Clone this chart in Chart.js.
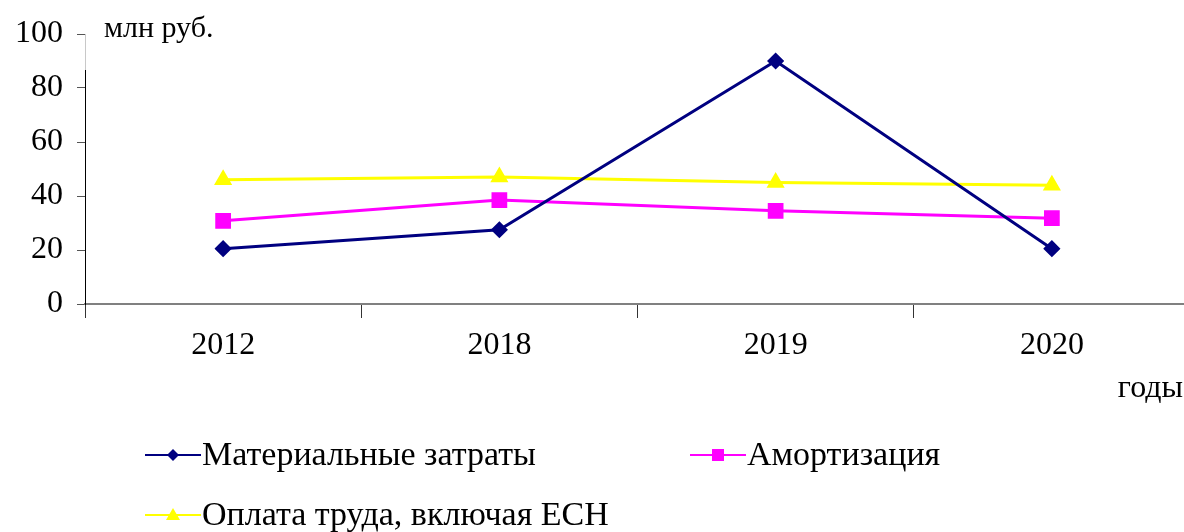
<!DOCTYPE html>
<html><head><meta charset="utf-8">
<script src="https://cdn.jsdelivr.net/npm/chart.js@4/dist/chart.umd.min.js"></script>
<style>html,body{margin:0;padding:0;background:#fff;overflow:hidden}#wrap{width:1184px;height:532px;position:relative;overflow:hidden}</style>
</head><body><div id="wrap"><canvas id="c" width="1190" height="532"></canvas></div>
<script>
const categories = ['2012','2018','2019','2020'];
const material = [20.5, 27.5, 90, 20.5];
const amort = [30.8, 38.5, 34.5, 31.8];
const labour = [46, 47, 45, 44];
const seriesNames = ['Материальные затраты','Амортизация','Оплата труда, включая ЕСН'];
const yUnit = 'млн руб.';
const xUnit = 'годы';
const FONT = '"Liberation Serif", "Times New Roman", serif';

const extras = {
  id: 'extras',
  afterDraw(chart) {
    const ctx = chart.ctx;
    const a = chart.chartArea;
    ctx.save();
    ctx.strokeStyle = '#c8c8c8';
    ctx.lineWidth = 1;
    ctx.beginPath(); ctx.moveTo(a.left + 0.5, a.top); ctx.lineTo(a.left + 0.5, 70); ctx.stroke();
    ctx.fillStyle = '#000';
    ctx.font = '30px ' + FONT;
    ctx.textBaseline = 'alphabetic';
    ctx.textAlign = 'left';
    ctx.fillText(yUnit, 104, 37);
    ctx.font = '32px ' + FONT;
    ctx.textAlign = 'right';
    ctx.fillText(xUnit, 1183, 397);
    const pos = [[145, 455], [690, 455], [145, 515]];
    chart.data.datasets.forEach((ds, i) => {
      const [x, y] = pos[i];
      ctx.strokeStyle = ds.borderColor;
      ctx.lineWidth = 2;
      ctx.beginPath(); ctx.moveTo(x, y); ctx.lineTo(x + 56, y); ctx.stroke();
      ctx.fillStyle = ds.borderColor;
      const cx = x + 28;
      ctx.beginPath();
      if (ds.pointStyle === 'rectRot') {
        ctx.moveTo(cx, y - 6); ctx.lineTo(cx + 6, y); ctx.lineTo(cx, y + 6); ctx.lineTo(cx - 6, y);
      } else if (ds.pointStyle === 'rect') {
        ctx.rect(cx - 6, y - 6, 12, 12);
      } else {
        ctx.moveTo(cx, y - 7); ctx.lineTo(cx + 7, y + 5); ctx.lineTo(cx - 7, y + 5);
      }
      ctx.closePath(); ctx.fill();
      ctx.fillStyle = '#000';
      ctx.font = '34px ' + FONT;
      ctx.textAlign = 'left';
      ctx.textBaseline = 'middle';
      ctx.fillText(ds.label, x + 57, y + 1);
    });
    ctx.restore();
  }
};

new Chart(document.getElementById('c'), {
  type: 'line',
  data: {
    labels: categories,
    datasets: [
      {label: seriesNames[0], data: material, borderColor: '#000080', backgroundColor: '#000080', borderWidth: 3, pointStyle: 'rectRot', pointRadius: 6.5, pointHoverRadius: 6.5, tension: 0},
      {label: seriesNames[1], data: amort, borderColor: '#FF00FF', backgroundColor: '#FF00FF', borderWidth: 3, pointStyle: 'rect', pointRadius: 9, pointHoverRadius: 9, tension: 0},
      {label: seriesNames[2], data: labour, borderColor: '#FFFF00', backgroundColor: '#FFFF00', borderWidth: 3, pointStyle: 'triangle', pointRadius: 7.5, pointHoverRadius: 7.5, tension: 0}
    ]
  },
  options: {
    responsive: false,
    animation: false,
    events: [],
    layout: {autoPadding: false, padding: {top: 34, right: 0, left: 0, bottom: 0}},
    plugins: {legend: {display: false}, tooltip: {enabled: false}},
    scales: {
      x: {
        offset: true,
        grid: {display: true, drawOnChartArea: false, drawTicks: true, tickLength: 14, offset: true, color: '#333', lineWidth: 1},
        border: {display: true, color: '#808080', width: 2},
        ticks: {font: {family: FONT, size: 32}, color: '#000', padding: 8, maxRotation: 0},
        afterFit(s) { s.height = 228; s.paddingLeft = 0; s.paddingRight = 0; }
      },
      y: {
        min: 0, max: 100,
        grid: {display: true, drawOnChartArea: false, drawTicks: true, tickLength: 8, color: '#555', lineWidth: 1},
        border: {display: true, color: '#000', width: 1},
        ticks: {stepSize: 20, font: {family: FONT, size: 32}, color: '#000', padding: 14},
        afterFit(s) { s.width = 85; s.paddingTop = 0; s.paddingBottom = 0; }
      }
    }
  },
  plugins: [extras]
});
</script></body></html>
